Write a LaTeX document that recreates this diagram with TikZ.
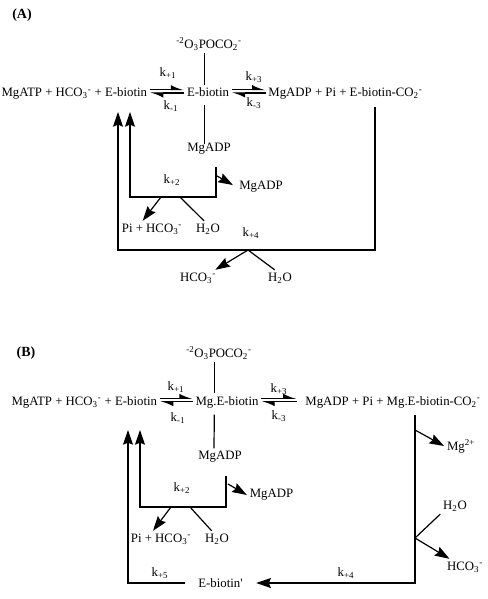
\documentclass[tikz,border=0pt]{standalone}
\usepackage{fontspec}
\setmainfont{Liberation Serif}
\usetikzlibrary{arrows.meta}

\newcommand{\hco}{HCO\textsubscript{3}\textsuperscript{-}}
\newcommand{\wat}{H\textsubscript{2}O}
\newcommand{\carbphos}{\textsuperscript{-2}O\textsubscript{3}POCO\textsubscript{2}\textsuperscript{-}}
\newcommand{\kk}[1]{k\textsubscript{#1}}

\tikzset{
	rxn/.style={line width=0.9pt},
	harp/.style={line width=0.8pt, -{Latex[harpoon,length=8.5pt,width=7pt]}},
	bigtip/.style={line width=0.9pt, -{Stealth[length=11pt,width=7.5pt,inset=1.5pt]}},
	panel/.style={font=\fontsize{10.5}{12}\selectfont\bfseries}
}

\begin{document}
\begin{tikzpicture}[x=0.75pt, y=-0.75pt, font=\fontsize{9.6}{11.5}\selectfont, inner sep=2pt]
	\useasboundingbox (0,0) rectangle (488,599);

	% (A)
	\node[panel] (labA) at (22,15) {(A)};
	\node[anchor=base east] (subA) at (150,97) {MgATP + \hco{} + E-biotin};
	\node[anchor=base] (ebA) at (208,97) {E-biotin};
	\node[anchor=base west] (prodA) at (265.5,97) {MgADP + Pi + E-biotin-CO\textsubscript{2}\textsuperscript{-}};
	\node (phA) at (209,44) {\carbphos};
	\node[anchor=base] (adpA) at (209,151.5) {MgADP};

	\node (kA1) at (168,73) {\kk{+1}};
	\node (kmA1) at (171,106) {\kk{-1}};
	\node (kA3) at (254,77) {\kk{+3}};
	\node (kmA3) at (254,103) {\kk{-3}};

	\draw[harp] ([yshift=5.5pt]subA.base east) -- ([yshift=5.5pt]ebA.base west);
	\draw[harp] ([yshift=3pt]ebA.base west) -- ([yshift=3pt]subA.base east);
	\draw[harp] ([yshift=5.5pt]ebA.base east) -- ([yshift=5.5pt]prodA.base west);
	\draw[harp] ([yshift=3pt]prodA.base west) -- ([yshift=3pt]ebA.base east);

	\draw[rxn] ([xshift=-3.2pt]phA.south) -- ([xshift=-3.2pt]phA.south |- ebA.north);
	\draw[rxn, shorten <=4pt, shorten >=-3pt] ([xshift=-3.2pt]phA.south |- ebA.south) -- ([xshift=-3.2pt]adpA.north);

	\node (kA2) at (172,180) {\kk{+2}};
	\node (adpA2) at (261,187) {MgADP};
	\node (piA) at (152,229) {Pi + \hco};
	\node (wA) at (208,229) {\wat};

	\coordinate (upA1) at (118,112);
	\coordinate (upA2) at (130,112);
	\coordinate (boxA) at (216,167);
	\coordinate (brA) at (217,176);
	\coordinate (jA2) at (161,197);
	\coordinate (jA2b) at (180,197);

	\draw[bigtip] (boxA) |- (jA2) -| (upA2);
	\draw[bigtip, shorten >=3pt] (brA) -- (adpA2.west);
	\draw[bigtip] (jA2) -- ([xshift=-7pt]piA.north);
	\draw[rxn] (jA2b) -- ([xshift=-3pt]wA.north);

	\node (kA4) at (251,233) {\kk{+4}};
	\node (hcoA) at (198,278) {\hco};
	\node (wA4) at (280,278) {\wat};

	\coordinate (loopA) at (375,107);
	\coordinate (jA4) at (248,250);

	\draw[bigtip] (loopA) |- (jA4) -| (upA1);
	\draw[bigtip] (jA4) -- ([xshift=13pt]hcoA.north);
	\draw[rxn] (jA4) -- ([xshift=-4pt]wA4.north);

	% (B)
	\node[panel] (labB) at (26,353) {(B)};
	\node[anchor=base east] (subB) at (160,405) {MgATP + \hco{} + E-biotin};
	\node[anchor=base] (mgB) at (227,405) {Mg.E-biotin};
	\node[anchor=base west] (prodB) at (302.5,405) {MgADP + Pi + Mg.E-biotin-CO\textsubscript{2}\textsuperscript{-}};
	\node (phB) at (219,353) {\carbphos};
	\node (adpB) at (220,457) {MgADP};

	\node (kB1) at (176,387) {\kk{+1}};
	\node (kmB1) at (178,418) {\kk{-1}};
	\node (kB3) at (279,389) {\kk{+3}};
	\node (kmB3) at (279,416) {\kk{-3}};

	\draw[harp] ([yshift=5pt]subB.base east) -- ([yshift=5pt]mgB.base west);
	\draw[harp] ([yshift=2.5pt]mgB.base west) -- ([yshift=2.5pt]subB.base east);
	\draw[harp] ([yshift=5pt]mgB.base east) -- ([xshift=-4.5pt,yshift=5pt]prodB.base west);
	\draw[harp] ([xshift=-4.5pt,yshift=2.5pt]prodB.base west) -- ([yshift=2.5pt]mgB.base east);

	\draw[rxn] ([xshift=-3.5pt]phB.south) -- ([xshift=-3.5pt]phB.south |- mgB.north);
	\draw[rxn, shorten <=3pt] ([xshift=-3.5pt]phB.south |- mgB.south) -- ([xshift=-4.5pt]adpB.north);

	\node (kB2) at (182,488) {\kk{+2}};
	\node (adpB2) at (271.5,495) {MgADP};
	\node (piB) at (161,539) {Pi + \hco};
	\node (wB) at (217,539) {\wat};

	\coordinate (upB1) at (128,430);
	\coordinate (upB2) at (140,430);
	\coordinate (boxB) at (226,476);
	\coordinate (brB) at (228,484);
	\coordinate (jB2) at (171,507);
	\coordinate (jB2b) at (190,507);

	\draw[bigtip] (boxB) |- (jB2) -| (upB2);
	\draw[bigtip] (brB) -- (adpB2.west);
	\draw[bigtip] (jB2) -- ([xshift=-6pt]piB.north);
	\draw[rxn] (jB2b) -- ([xshift=-4pt]wB.north);

	\node (mgiB) at (461,446) {Mg\textsuperscript{2+}};
	\node (wB4) at (455,506) {\wat};
	\node (hcoB) at (465,567) {\hco};
	\node (kB4) at (346,573) {\kk{+4}};
	\node (kB5) at (160,573) {\kk{+5}};
	\node[inner xsep=10pt] (ebpB) at (220.5,583) {E-biotin\textquotesingle};

	\coordinate (loopB) at (415,415);
	\coordinate (brB1) at (415,430);
	\coordinate (jB4) at (415,538);

	\draw[bigtip] (loopB) |- (ebpB.east);
	\draw[bigtip] (ebpB.west) -| (upB1);
	\draw[bigtip] (brB1) -- (mgiB.west);
	\draw[rxn] (jB4) -- (wB4.south west);
	\draw[bigtip] (jB4) -- ([xshift=4pt]hcoB.north west);
\end{tikzpicture}
\end{document}
